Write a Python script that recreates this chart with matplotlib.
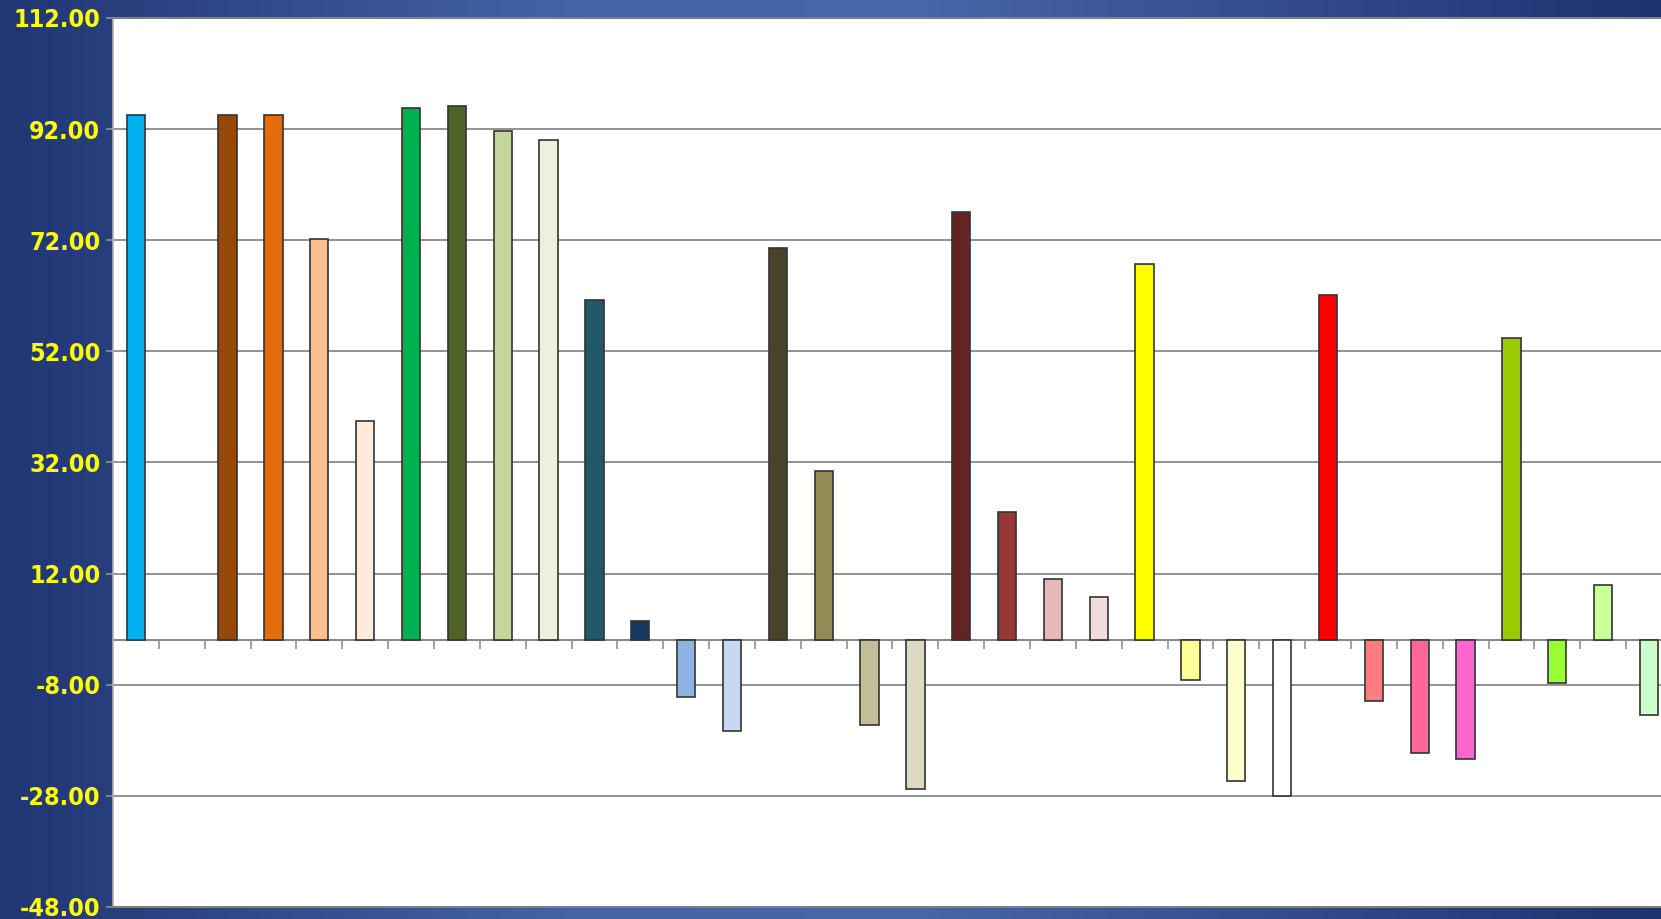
import numpy as np
import matplotlib
matplotlib.use("Agg")
import matplotlib.pyplot as plt
from matplotlib.colors import LinearSegmentedColormap

# ---- data ----
categories = list(range(34))
values = [94.6, None, 94.6, 94.6, 72.2, 39.5, 95.8, 96.1, 91.6, 90.0,
          61.2, 3.4, -10.2, -16.3, 70.6, 30.5, -15.3, -26.8, 77.1, 23.1,
          11.1, 7.8, 67.8, -7.2, -25.3, -28.1, 62.1, -10.9, -20.3, -21.4,
          54.4, -7.7, 9.9, -13.4]
bar_colors = ["#00B0F0", "#FFFFFF", "#974706", "#E46C0A", "#FAC090", "#FDEADA",
              "#00B050", "#4F6228", "#C3D69B", "#EBF1DE", "#215968", "#17375E",
              "#8DB4E2", "#C6D9F1", "#494429", "#948A54", "#C4BD97", "#DDD9C3",
              "#632423", "#953735", "#E6B9B8", "#F2DCDB", "#FFFF00", "#FFFF99",
              "#FFFFCC", "#FFFFFF", "#FF0000", "#FF7C80", "#FF6699", "#FF66CC",
              "#99CC00", "#99FF33", "#CCFF99", "#CCFFCC"]
y_ticks = [-48, -28, -8, 12, 32, 52, 72, 92, 112]
y_tick_labels = ["%.2f" % v for v in y_ticks]

W, H = 1661, 919
fig = plt.figure(figsize=(W / 100, H / 100), dpi=100)

# background gradient
bg = fig.add_axes([0, 0, 1, 1], zorder=-10)
cmap = LinearSegmentedColormap.from_list(
    "bgblue", [(0.0, "#213674"), (0.35, "#4564A6"), (0.55, "#4866A8"), (1.0, "#1E3170")])
grad = np.linspace(0, 1, 512).reshape(1, -1)
bg.imshow(grad, aspect="auto", cmap=cmap, extent=[0, 1, 0, 1])
bg.set_axis_off()

left = 113 / W
bottom = (H - 907) / H
top = (H - 18) / H
ax = fig.add_axes([left, bottom, 1.0 - left, top - bottom])
ax.set_facecolor("white")

x = np.arange(len(categories))
heights = np.array([np.nan if v is None else v for v in values], dtype=float)
ax.bar(x, heights, width=0.4, color=bar_colors, edgecolor="#333333",
       linewidth=1.2, zorder=3)

ax.set_ylim(-48, 112)
ax.set_xlim(-0.5, -0.5 + (W - 113) / 45.85)
ax.set_yticks(y_ticks)
ax.set_yticklabels(y_tick_labels)
ax.yaxis.grid(True, color="#808080", linewidth=1.2, zorder=1)
ax.set_axisbelow(True)

for lbl in ax.get_yticklabels():
    lbl.set_color("#FFFF00")
    lbl.set_fontweight("bold")
    lbl.set_fontsize(18)
    lbl.set_fontfamily("DejaVu Sans")
    lbl.set_fontstretch("condensed")
ax.tick_params(axis="y", length=5, width=1.2, color="#909090", pad=4)

# x axis at zero with ticks between categories
ax.set_xticks([])
ax.axhline(0, color="#8A8A8A", linewidth=1.5, zorder=2)
for b in np.arange(0.5, len(categories), 1.0):
    ax.plot([b, b], [0, -1.6], color="#9A9A9A", linewidth=1.3, zorder=2,
            solid_capstyle="butt")

for s in ["top", "bottom"]:
    ax.spines[s].set_color("#808080")
    ax.spines[s].set_linewidth(1.5)
ax.spines["left"].set_color("#B0B0B0")
ax.spines["left"].set_linewidth(1.2)
ax.spines["right"].set_visible(False)

fig.savefig("out.png", dpi=100)
